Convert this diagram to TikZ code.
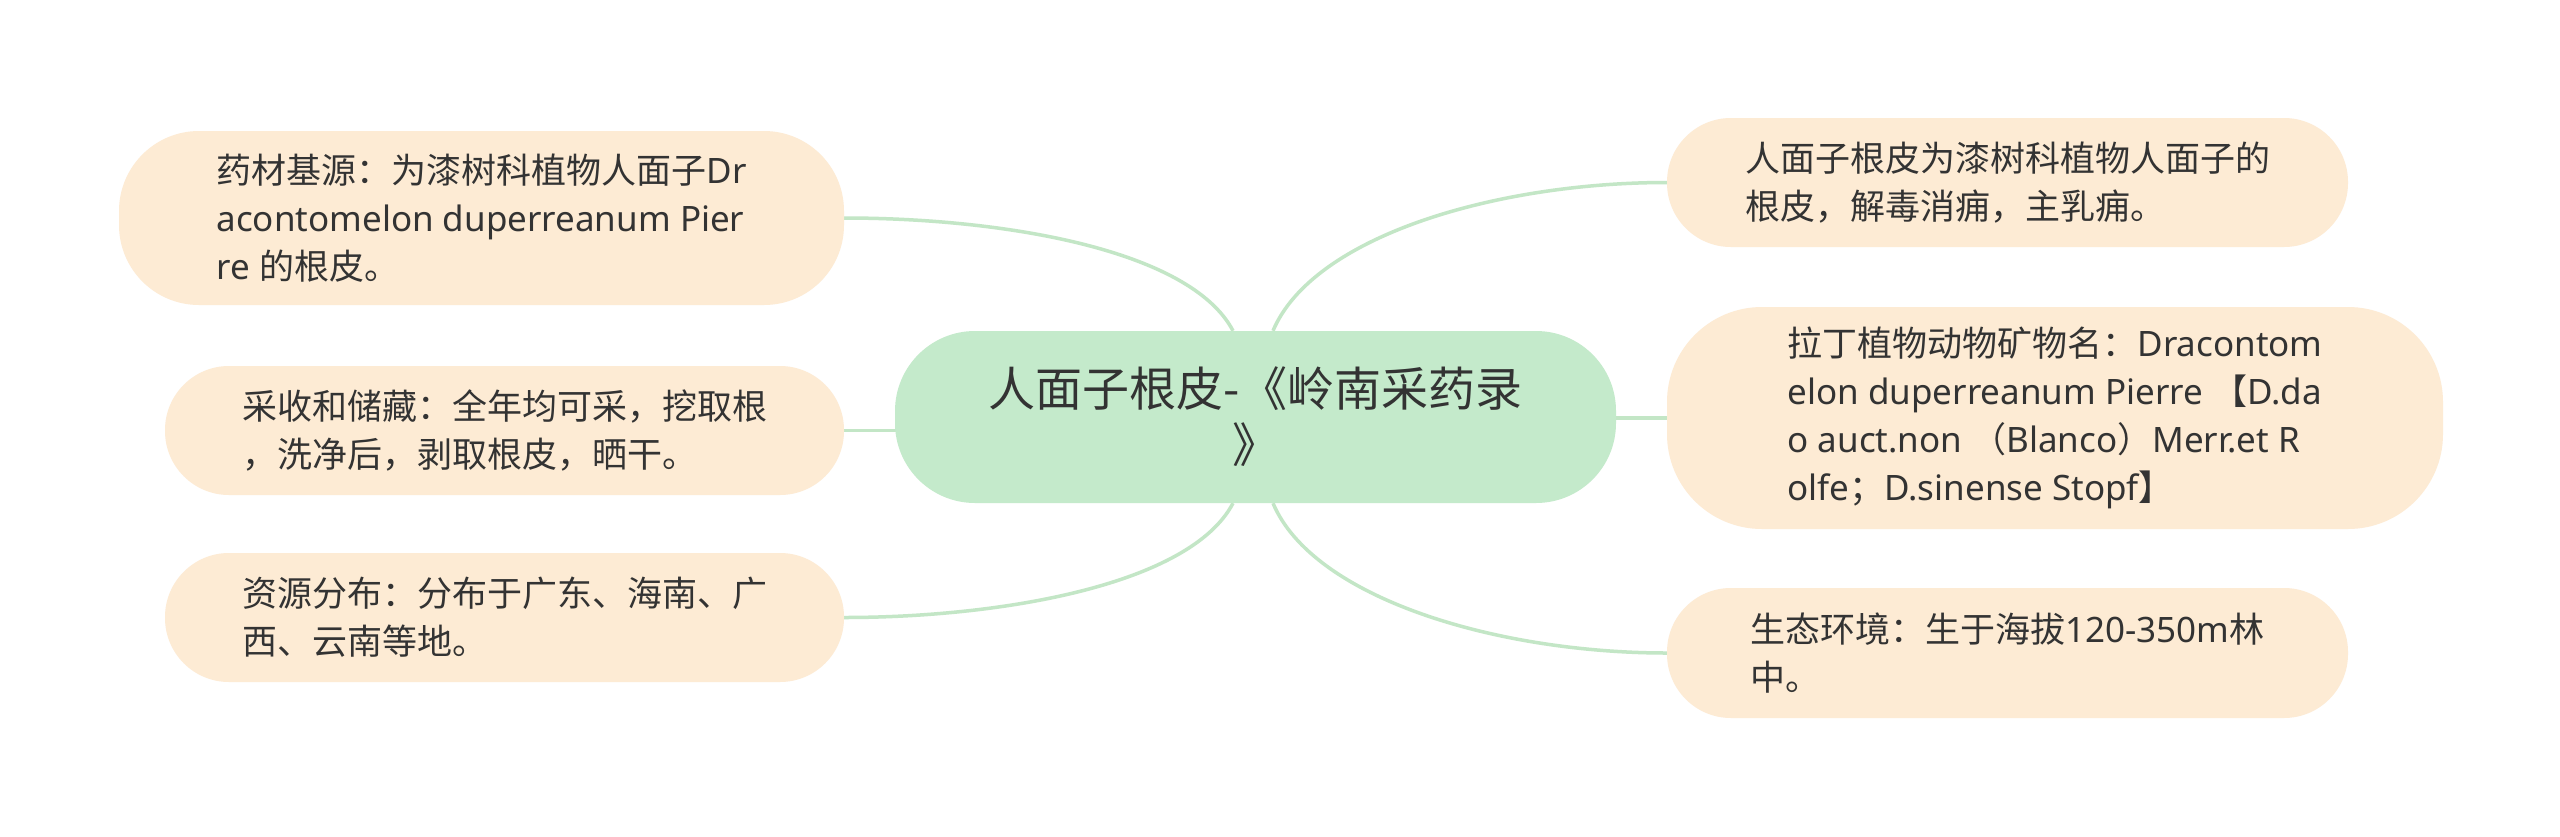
\documentclass[tikz,border=0pt]{standalone}
\usepackage{fontspec}
\setmainfont{Noto Sans}
\newfontfamily\cjk{Noto Sans CJK SC}
\usetikzlibrary{backgrounds}
\definecolor{peach}{HTML}{FDEBD4}
\definecolor{cgreen}{HTML}{C4EACB}
\definecolor{lgreen}{HTML}{C3E6C6}
\definecolor{txt}{HTML}{333333}
\newcommand{\zh}[1]{{\cjk #1}}
\begin{document}
\begin{tikzpicture}[x=1pt,y=-1pt,
  leaf/.style={fill=peach, align=left, text=txt, font=\fontsize{35}{48}\selectfont, inner sep=0pt},
  rootbox/.style={fill=cgreen, align=center, text=txt, font=\fontsize{47}{56}\selectfont\cjk, inner sep=0pt, rounded corners=80pt},
  conn/.style={draw=lgreen, line width=3.5pt}]
\useasboundingbox (0,0) rectangle (2560,836);

\node[rootbox, minimum width=721pt, minimum height=172pt] (c) at (1255.5,417) {人面子根皮-《岭南采药录\\》};

\node[leaf, rounded corners=80pt, minimum width=725pt, minimum height=174pt] (l1) at (481.5,218)
  {\zh{药材基源：为漆树科植物人面子}Dr\\acontomelon duperreanum Pier\\re \zh{的根皮。}};
\node[leaf, rounded corners=64pt, minimum width=679pt, minimum height=129pt] (l2) at (504.5,430.5)
  {\zh{采收和储藏：全年均可采，挖取根}\\\zh{，洗净后，剥取根皮，晒干。}};
\node[leaf, rounded corners=64pt, minimum width=679pt, minimum height=129pt] (l3) at (504.5,617.5)
  {\zh{资源分布：分布于广东、海南、广}\\\zh{西、云南等地。}};

\node[leaf, rounded corners=64pt, minimum width=681pt, minimum height=129pt] (r1) at (2007.5,182.5)
  {\zh{人面子根皮为漆树科植物人面子的}\\\zh{根皮，解毒消痈，主乳痈。}};
\node[leaf, rounded corners=95pt, minimum width=776pt, minimum height=222pt] (r2) at (2055,418)
  {\zh{拉丁植物动物矿物名：}Dracontom\\elon duperreanum Pierre \zh{【}D.da\\o auct.non \zh{（}Blanco\zh{）}Merr.et R\\olfe\zh{；}D.sinense Stopf\zh{】}};
\node[leaf, rounded corners=64pt, minimum width=681pt, minimum height=130pt] (r3) at (2007.5,653)
  {\zh{生态环境：生于海拔}120-350m\zh{林}\\\zh{中。}};

\begin{scope}[on background layer]
\fill[white] (0,0) rectangle (2560,836);
\draw[conn] ([xshift=-22.5pt]c.north) .. controls +(-43,-82) and +(156,0) .. (l1.east);
\draw[conn] (l2.east) -- (l2.east -| c.center);
\draw[conn] ([xshift=-22.5pt]c.south) .. controls +(-43,82) and +(156,0) .. (l3.east);
\draw[conn] ([xshift=17.5pt]c.north) .. controls +(40,-95) and +(-170,0) .. (r1.west);
\draw[conn] (r2.west) -- (r2.west -| c.center);
\draw[conn] ([xshift=17.5pt]c.south) .. controls +(40,95) and +(-170,0) .. (r3.west);
\end{scope}
\end{tikzpicture}
\end{document}
